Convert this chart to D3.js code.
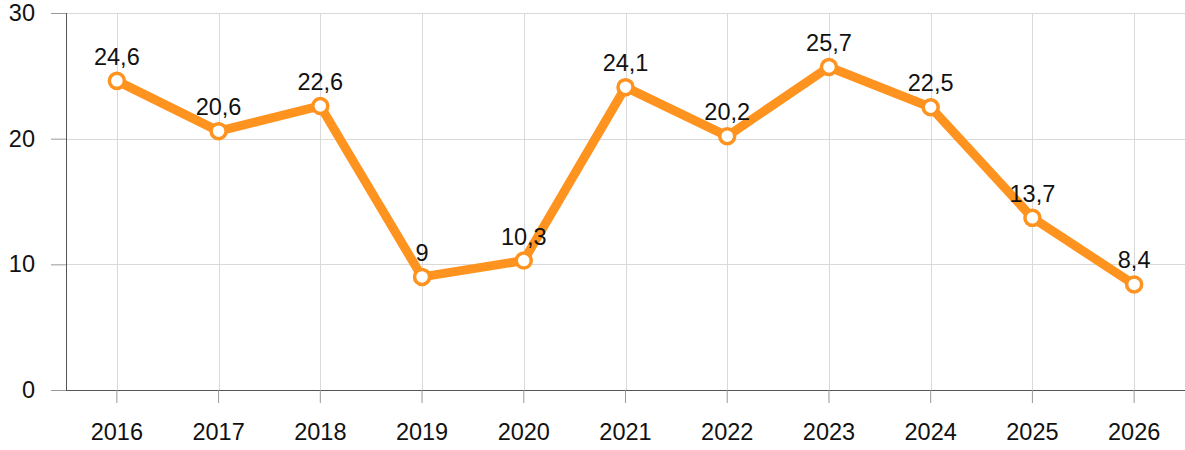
<!DOCTYPE html>
<html>
<head>
<meta charset="utf-8">
<script src="https://cdn.jsdelivr.net/npm/d3@7"></script>
<style>
  body { margin: 0; background: #fff; }
  text { font-family: "Liberation Sans", Arial, sans-serif; }
</style>
</head>
<body>
<svg id="chart" width="1185" height="450"></svg>
<script>
const years = ['2016', '2017', '2018', '2019', '2020', '2021', '2022', '2023', '2024', '2025', '2026'];
const values = [24.6, 20.6, 22.6, 9, 10.3, 24.1, 20.2, 25.7, 22.5, 13.7, 8.4];
const yTicks = [0, 10, 20, 30];

const data = years.map((y, i) => ({ year: y, value: values[i] }));

const margin = { top: 13, right: 0, bottom: 60, left: 66 };
const width = 1185 - margin.left - margin.right;
const height = 450 - margin.top - margin.bottom;

const orange = '#ff931f';
const gridColor = '#d9d9d9';
const axisColor = '#555';
const fontSize = '23.5px';

const svg = d3.select('#chart');
const g = svg.append('g')
    .attr('transform', `translate(${margin.left},${margin.top})`);

// scales

const x = d3.scaleBand()
    .domain(years)
    .range([0, width]);

const y = d3.scaleLinear()
    .domain([0, 30])
    .range([height, 0]);

const cx = d => x(d) + x.bandwidth() / 2;

// grid

g.append('g')
    .selectAll('line')
    .data(yTicks.slice(1))
    .join('line')
      .attr('stroke', gridColor)
      .attr('x1', 0)
      .attr('x2', width)
      .attr('y1', d => Math.round(y(d)) + 0.5)
      .attr('y2', d => Math.round(y(d)) + 0.5);

g.append('g')
    .selectAll('line')
    .data(years)
    .join('line')
      .attr('stroke', gridColor)
      .attr('x1', d => Math.round(cx(d)) + 0.5)
      .attr('x2', d => Math.round(cx(d)) + 0.5)
      .attr('y1', 0)
      .attr('y2', height);

// axes

const yAxis = d3.axisLeft(y)
    .tickValues(yTicks)
    .tickSize(15)
    .tickPadding(16);

g.append('g')
    .call(yAxis)
    .call(a => a.select('.domain').attr('stroke', axisColor).attr('d', `M0.5,0V${height}`))
    .call(a => a.selectAll('.tick line').attr('stroke', '#999'))
    .call(a => a.selectAll('.tick text')
        .attr('fill', '#111')
        .style('font-size', fontSize));

const xAxis = d3.axisBottom(x)
    .tickSize(13)
    .tickPadding(20);

g.append('g')
    .attr('transform', `translate(0,${height})`)
    .call(xAxis)
    .call(a => a.select('.domain').attr('stroke', axisColor).attr('d', `M0,0.5H${width}`))
    .call(a => a.selectAll('.tick line').attr('stroke', '#999'))
    .call(a => a.selectAll('.tick text')
        .attr('fill', '#111')
        .style('font-size', fontSize));

// line

const line = d3.line()
    .x(d => cx(d.year))
    .y(d => y(d.value));

g.append('path')
    .datum(data)
    .attr('fill', 'none')
    .attr('stroke', orange)
    .attr('stroke-width', 9)
    .attr('stroke-linejoin', 'round')
    .attr('d', line);

g.append('g')
    .selectAll('circle')
    .data(data)
    .join('circle')
      .attr('cx', d => cx(d.year))
      .attr('cy', d => y(d.value))
      .attr('r', 7.5)
      .attr('fill', '#fff')
      .attr('stroke', orange)
      .attr('stroke-width', 3.5);

// value labels

g.append('g')
    .selectAll('text')
    .data(data)
    .join('text')
      .attr('x', d => cx(d.year))
      .attr('y', d => y(d.value) - 16)
      .attr('text-anchor', 'middle')
      .attr('fill', '#111')
      .style('font-size', fontSize)
      .text(d => String(d.value).replace('.', ','));
</script>
</body>
</html>
